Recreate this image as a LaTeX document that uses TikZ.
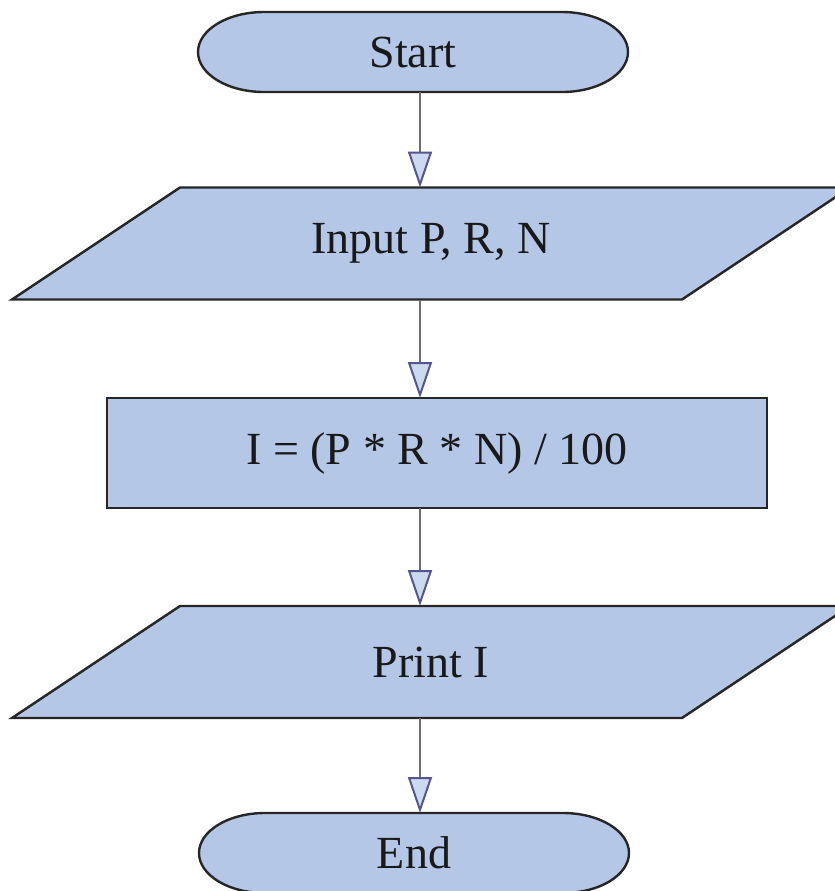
\documentclass[tikz,border=0pt]{standalone}
\usepackage{fontspec}
\setmainfont{Liberation Serif}
\usetikzlibrary{arrows.meta,backgrounds}

\definecolor{boxfill}{RGB}{181,199,230}
\definecolor{headfill}{RGB}{204,218,240}
\definecolor{flowline}{RGB}{105,108,115}

% outline of a start/end box: flat top and bottom, half-ellipse ends
\newcommand{\termoutline}[1]{%
  \path[shapeline]
    ([xshift=33pt]#1.north west) -- ([xshift=-33pt]#1.north east)
    arc[start angle=90,end angle=-90,x radius=33pt,y radius=20pt]
    -- ([xshift=33pt]#1.south west)
    arc[start angle=270,end angle=90,x radius=33pt,y radius=20pt] -- cycle;}
% outline of an input/output box, leaning to the right
\newcommand{\iooutline}[1]{%
  \path[shapeline]
    ([xshift=84pt]#1.north west) -- (#1.north east)
    -- ([xshift=-84pt]#1.south east) -- (#1.south west) -- cycle;}

\begin{document}
\begin{tikzpicture}[x=1pt,y=1pt,line width=1.2pt,
  shapeline/.style={fill=boxfill,draw=black!85,line width=1.2pt},
  txt/.style={font=\fontsize{23}{27}\selectfont,text=black!90,inner sep=0pt,outer sep=0pt},
  term/.style={txt,minimum width=215pt,minimum height=40pt},
  io/.style={txt,minimum width=419pt,minimum height=56pt},
  proc/.style={txt,shapeline,minimum width=330pt,minimum height=55pt},
  flow/.style={draw=flowline,-{Triangle[length=18pt,width=12pt,fill=headfill,color=flowline!80!blue,line width=1pt]}}]
\useasboundingbox (0,0) rectangle (417.5,-445.5);
\coordinate (axis) at (210,0);

\node[term] (start) at (206.5,-26) {Start};
\node[io] (input) at (215.5,-121.75) {Input P, R, N};
\node[proc] (calc) at (218.5,-226.5) {I = (P * R * N) / 100};
\node[io] (print) at (215.5,-331) {Print I};
\node[term] (end) at (207,-426.5) {End};

\begin{scope}[on background layer]
\termoutline{start}
\termoutline{end}
\iooutline{input}
\iooutline{print}
\end{scope}

\draw[flow] (start.south -| axis) -- (input.north -| axis);
\draw[flow] (input.south -| axis) -- (calc.north -| axis);
\draw[flow] (calc.south -| axis) -- (print.north -| axis);
\draw[flow] (print.south -| axis) -- (end.north -| axis);
\end{tikzpicture}
\end{document}
